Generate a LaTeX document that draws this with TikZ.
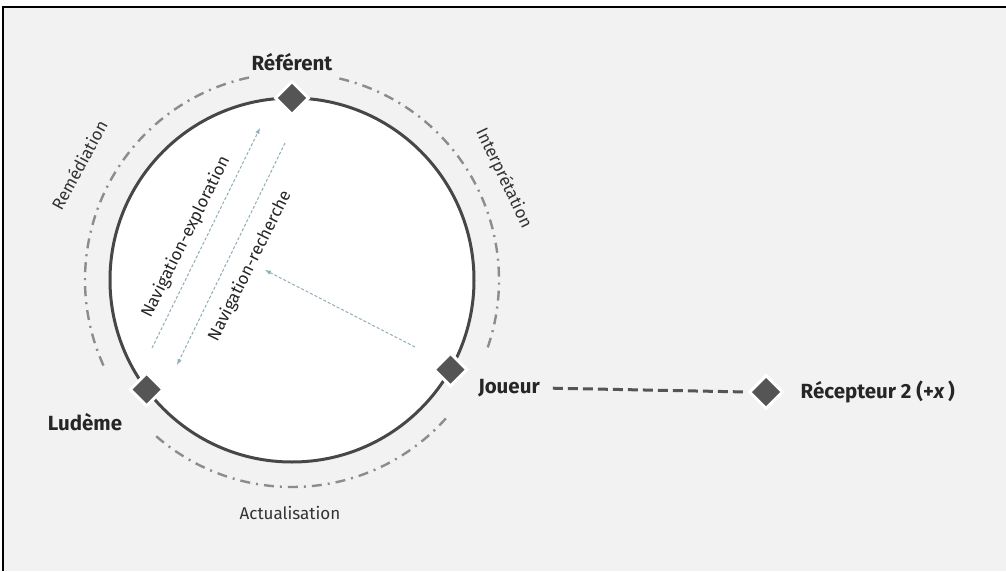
\documentclass[tikz,border=0pt]{standalone}
\usepackage{fontspec}
\setmainfont{Fira Sans}
\usetikzlibrary{shapes.geometric,positioning}
\definecolor{paper}{HTML}{F2F2F2}
\definecolor{ringgrey}{HTML}{474747}
\definecolor{orbitgrey}{HTML}{8C8C8C}
\definecolor{polegrey}{HTML}{555555}
\definecolor{navblue}{HTML}{8FAFB8}
\tikzset{
  pole/.style     = {diamond, aspect=1, minimum size=34pt, inner sep=0pt,
                     fill=polegrey, draw=white, line width=3pt},
  polename/.style = {font=\fontsize{20.5}{24}\selectfont\bfseries, text=black!85, inner sep=2pt},
  phase/.style    = {font=\fontsize{17}{20}\selectfont, text=black!80},
  navtext/.style  = {font=\fontsize{17}{20}\selectfont, text=black!85},
  orbit/.style    = {orbitgrey, line width=2.4pt, dash pattern=on 10pt off 6pt on 2pt off 6pt},
  navarrow/.style = {->, navblue, line width=1pt, densely dashed},
  link/.style     = {polegrey, line width=3pt, dash pattern=on 10pt off 5pt}
}
\tikzset{>=latex}
\begin{document}
\begin{tikzpicture}[x=1pt,y=1pt]
  % frame
  \useasboundingbox (-292,-291) rectangle (714,280);
  \fill[paper] (-289,-291) rectangle (714,273);
  \draw[line width=1.5pt] (-289,-291) -- (-289,273) -- (714,273);
  % ring
  \draw[ringgrey, line width=3pt, fill=white] (0,0) circle (182pt);
  % orbits
  \draw[orbit] (102:207pt) arc (102:205:207pt);
  \draw[orbit] (229:207pt) arc (229:318:207pt);
  \draw[orbit] (-19:207pt) arc (-19:78:207pt);
  % poles
  \node[pole] (referent)  at (90:182pt)    {};
  \node[pole] (ludeme)    at (217:182pt)   {};
  \node[pole] (joueur)    at (-29.5:182pt) {};
  \node[pole] (recepteur) at (474,-112)    {};
  % names
  \node[polename] (referent-name) at (0,218)     {Référent};
  \node[polename] (ludeme-name)   at (-207,-142) {Ludème};
  \node[polename] (joueur-name)   at (217,-108)  {Joueur};
  \node[polename, right=14pt of recepteur] (recepteur-name) {Récepteur 2 (+\textit{x}\,)};
  % link
  \draw[link, shorten <=11pt] (joueur-name.east) -- (recepteur.west);
  % navigation
  \coordinate (expl-start)  at (-140,-68);
  \coordinate (expl-end)    at (-32,152);
  \coordinate (rech-start)  at (-7,137);
  \coordinate (rech-end)    at (-115,-85);
  \coordinate (rech-origin) at (123,-67);
  \coordinate (rech-target) at (-27,10);
  \draw[navarrow] (expl-start) -- (expl-end);
  \draw[navarrow] (rech-start) -- (rech-end);
  \draw[navarrow] (rech-origin) -- (rech-target);
  \node[navtext, rotate=63.5] (expl-text) at (-106,43) {Navigation-exploration};
  \node[navtext, rotate=63.5] (rech-text) at (-42,14) {Navigation-recherche};
  % phases
  \node[phase, rotate=61.5]  (remediation)    at (151.6:242pt) {Remédiation};
  \node[phase, rotate=-64.3] (interpretation) at (25.7:235pt)  {Interprétation};
  \node[phase]               (actualisation)  at (-2,-233)     {Actualisation};
\end{tikzpicture}
\end{document}
